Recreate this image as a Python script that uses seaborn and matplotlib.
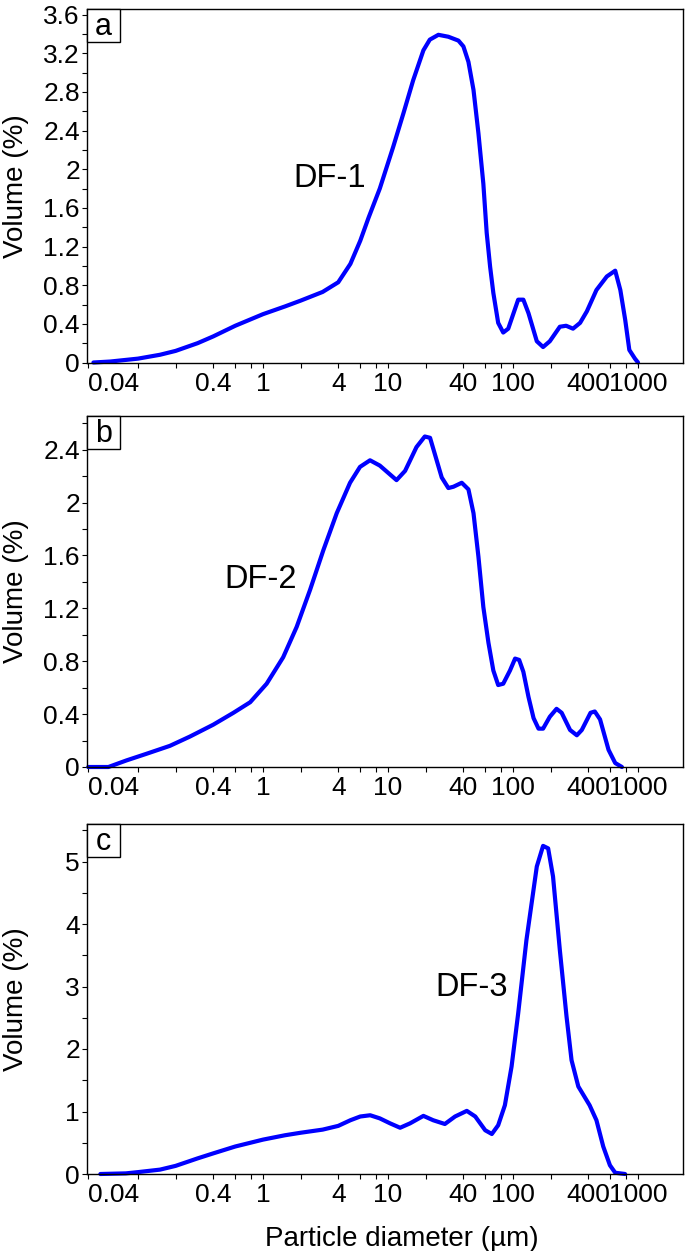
import pandas as pd
import matplotlib.pyplot as plt
import matplotlib.ticker as mticker
from matplotlib.patches import Rectangle
import seaborn as sns

# particle size distributions
diam_a = [0.044, 0.06, 0.1, 0.15, 0.2, 0.3, 0.4, 0.6, 1.0, 1.5,
          2.0, 3.0, 4.0, 5.0, 6.0, 7.0, 8.6, 11.0, 13.3, 15.9,
          19.2, 21.6, 25.3, 30.4, 36.6, 40.1, 44.0, 48.3, 52.9, 57.9,
          61.6, 65.6, 69.6, 76.1, 83.5, 91.6, 110, 121, 133, 155,
          174, 197, 237, 266, 302, 344, 390, 465, 563, 657,
          722, 790, 852, 945, 1000]
vol_a = [0.0, 0.01, 0.04, 0.08, 0.12, 0.2, 0.27, 0.38, 0.5, 0.58,
         0.64, 0.73, 0.83, 1.02, 1.26, 1.5, 1.80, 2.23, 2.58, 2.92,
         3.23, 3.34, 3.39, 3.37, 3.33, 3.27, 3.11, 2.82, 2.37, 1.85,
         1.34, 0.99, 0.72, 0.41, 0.31, 0.35, 0.65, 0.65, 0.51, 0.22,
         0.16, 0.22, 0.37, 0.38, 0.35, 0.41, 0.53, 0.75, 0.89, 0.95,
         0.75, 0.44, 0.13, 0.04, 0.0]

diam_b = [0.04, 0.058, 0.081, 0.117, 0.18, 0.26, 0.40, 0.58, 0.79, 1.07,
          1.45, 1.86, 2.38, 3.04, 3.89, 4.97, 5.97, 7.18, 8.6, 11.7,
          13.7, 16.9, 19.7, 21.7, 26.9, 30.4, 33.4, 38.9, 44.0, 48.3,
          52.9, 57.9, 63.6, 69.6, 76.1, 83.5, 94.6, 103.9, 112, 121,
          133, 146, 160, 174, 197, 223, 245, 286, 324, 355,
          417, 451, 497, 581, 657, 744]
vol_b = [0.0, 0.0, 0.05, 0.10, 0.16, 0.23, 0.32, 0.41, 0.49, 0.63,
         0.83, 1.06, 1.34, 1.64, 1.92, 2.15, 2.27, 2.32, 2.28, 2.17,
         2.24, 2.42, 2.50, 2.49, 2.19, 2.11, 2.12, 2.15, 2.10, 1.92,
         1.59, 1.21, 0.94, 0.73, 0.62, 0.63, 0.73, 0.82, 0.81, 0.72,
         0.53, 0.37, 0.29, 0.29, 0.38, 0.44, 0.41, 0.28, 0.24, 0.28,
         0.41, 0.42, 0.36, 0.13, 0.03, 0.0]

diam_c = [0.05, 0.08, 0.1, 0.15, 0.2, 0.3, 0.4, 0.6, 1.0, 1.5,
          2.0, 3.0, 4.0, 5.0, 6.0, 7.2, 8.6, 10.4, 12.5, 15.0,
          19.2, 23.0, 28.5, 34.4, 42.7, 49.9, 59.9, 67.7, 76.1, 86.1,
          97.4, 110, 128, 155, 174, 191, 209, 237, 268, 294,
          333, 410, 465, 527, 596, 657, 788]
vol_c = [0.0, 0.01, 0.03, 0.07, 0.13, 0.25, 0.33, 0.44, 0.55, 0.62,
         0.66, 0.71, 0.77, 0.86, 0.92, 0.94, 0.89, 0.81, 0.74, 0.81,
         0.93, 0.86, 0.80, 0.92, 1.01, 0.92, 0.70, 0.64, 0.78, 1.10,
         1.72, 2.57, 3.74, 4.92, 5.25, 5.21, 4.76, 3.58, 2.52, 1.82,
         1.40, 1.10, 0.86, 0.44, 0.14, 0.02, 0.0]

x_ticks = [0.04, 0.1, 0.2, 0.4, 0.6, 0.8, 1, 2, 4, 6, 8, 10, 20, 40, 60, 80,
           100, 200, 400, 600, 800, 1000]
x_labels = ["0.04", "", "", "0.4", "", "", "1", "", "4", "", "", "10", "",
            "40", "", "", "100", "", "400", "", "", "1000"]

panels = [
    dict(x=diam_a, y=vol_a, letter="a", name="DF-1", pos=(3.4, 1.9),
         ylim=3.657, major=0.4, minor=0.2, top=9, bottom=362.5),
    dict(x=diam_b, y=vol_b, letter="b", name="DF-2", pos=(0.95, 1.42),
         ylim=2.655, major=0.4, minor=0.2, top=416, bottom=767),
    dict(x=diam_c, y=vol_c, letter="c", name="DF-3", pos=(46.7, 2.98),
         ylim=5.6, major=1, minor=0.5, top=824, bottom=1174),
]

BLUE = "#0000FF"
W, H = 685, 1251
L, R = 87, 683

sns.set_style("ticks")
plt.rcParams["font.family"] = ["Liberation Sans", "DejaVu Sans"]
plt.rcParams.update({
    "axes.linewidth": 1.0, "axes.edgecolor": "black",
    "text.color": "black", "axes.labelcolor": "black",
    "xtick.labelcolor": "black", "ytick.labelcolor": "black",
    "xtick.major.size": 3.6, "ytick.major.size": 3.6,
    "xtick.minor.size": 3.6, "ytick.minor.size": 3.6,
    "xtick.major.width": 0.8, "ytick.major.width": 0.8,
    "ytick.minor.width": 0.8, "xtick.color": "black", "ytick.color": "black",
    "xtick.direction": "out", "ytick.direction": "out",
})

fig = plt.figure(figsize=(W / 100, H / 100), dpi=100)

for i, p in enumerate(panels):
    hpx = p["bottom"] - p["top"]
    ax = fig.add_axes([L / W, 1 - p["bottom"] / H, (R - L) / W, hpx / H])
    df = pd.DataFrame({"d": p["x"], "v": p["y"]})
    sns.lineplot(data=df, x="d", y="v", ax=ax, color=BLUE, linewidth=3.0,
                 sort=False, estimator=None, clip_on=False,
                 solid_joinstyle="round", solid_capstyle="round")
    ax.set_xscale("log")
    ax.set_xlim(0.0391, 2290)
    ax.set_ylim(0, p["ylim"])
    ax.xaxis.set_major_locator(mticker.FixedLocator(x_ticks))
    ax.xaxis.set_major_formatter(mticker.FixedFormatter(x_labels))
    ax.xaxis.set_minor_locator(mticker.NullLocator())
    ax.yaxis.set_major_locator(mticker.MultipleLocator(p["major"]))
    ax.yaxis.set_minor_locator(mticker.MultipleLocator(p["minor"]))
    ax.yaxis.set_major_formatter(mticker.FuncFormatter(lambda v, pos: f"{v:g}"))
    ax.tick_params(axis="x", labelsize=19, pad=3)
    ax.tick_params(axis="y", labelsize=19, pad=1.5)
    ax.get_xticklabels()[0].set_ha("left")

    ax.set_ylabel("Volume (%)", fontsize=20)
    ax.yaxis.set_label_coords(-0.098, 0.5)
    if i == 2:
        ax.set_xlabel("Particle diameter (\u00b5m)", fontsize=20)
        ax.xaxis.set_label_coords(0.529, -0.15)
    else:
        ax.set_xlabel("")

    # panel letter in a square box at the top-left corner
    ax.add_patch(Rectangle((0, 1), 33 / (R - L), -33 / hpx, transform=ax.transAxes,
                           facecolor="white", edgecolor="black", linewidth=1.0,
                           clip_on=False, zorder=5))
    ax.annotate(p["letter"], xy=(0, 1), xycoords="axes fraction",
                xytext=(16.5, -26), textcoords="offset pixels",
                ha="center", va="baseline", fontsize=22, zorder=6)

    ax.text(p["pos"][0], p["pos"][1], p["name"], fontsize=23.5,
            ha="center", va="center")

fig.savefig("out.png", dpi=100, facecolor="white")
